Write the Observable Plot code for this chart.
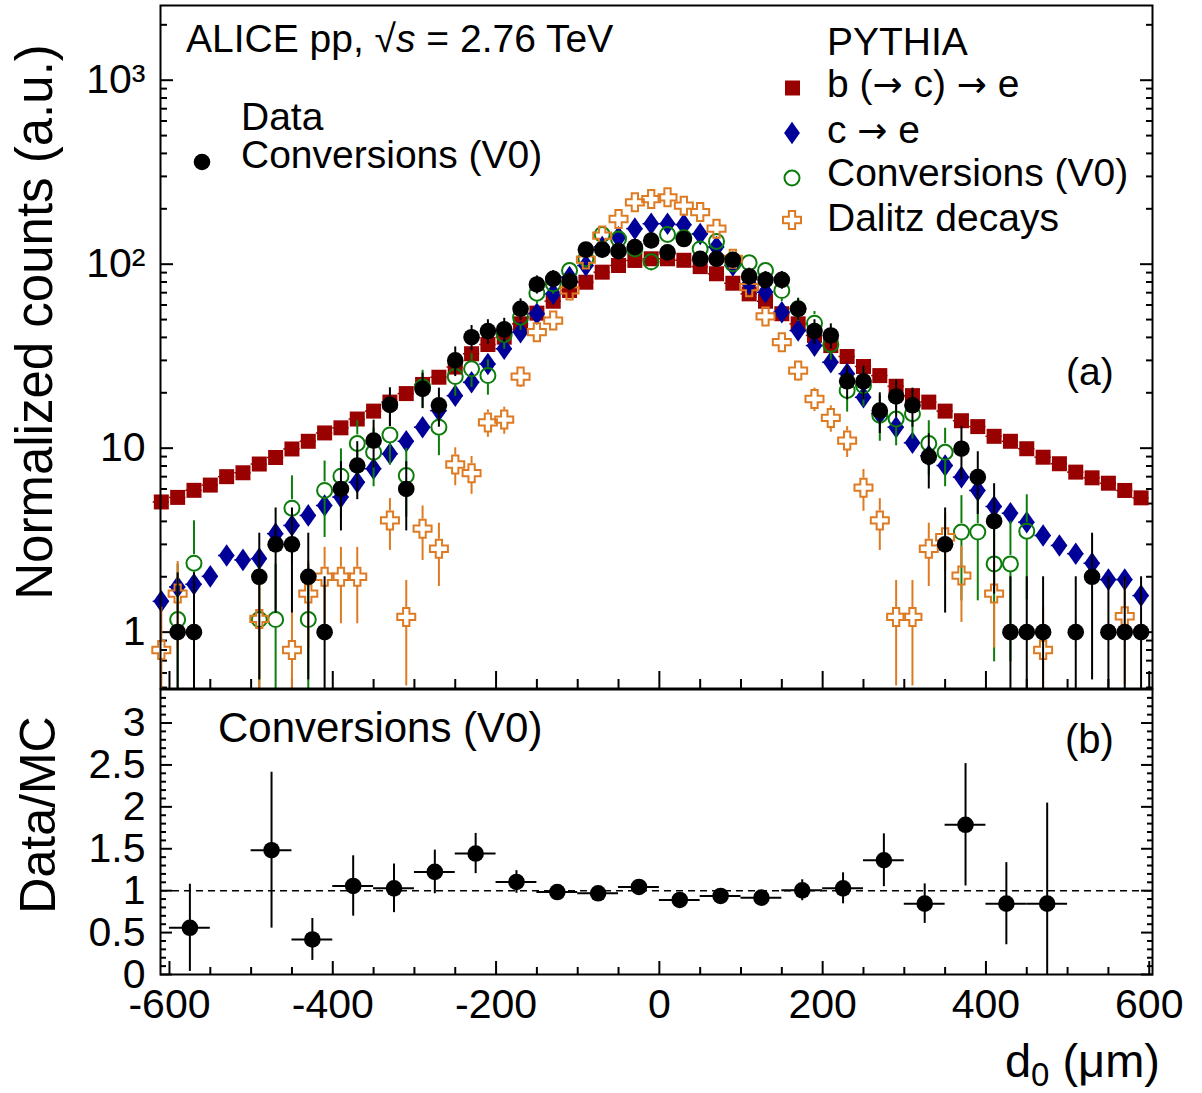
<!DOCTYPE html>
<html><head><meta charset="utf-8">
<script src="https://cdn.jsdelivr.net/npm/d3@7"></script>
<script src="https://cdn.jsdelivr.net/npm/@observablehq/plot@0.6"></script>
<style>
body{margin:0;background:#fff;}
#wrap{position:relative;width:1202px;height:1093px;background:#fff;}
#wrap svg{position:absolute;left:0;overflow:visible;}
</style></head><body><div id="wrap"></div>
<script>
// ---------- data ----------
const d0 = [-610,-590,-570,-550,-530,-510,-490,-470,-450,-430,-410,-390,-370,-350,-330,-310,-290,-270,-250,-230,-210,-190,-170,-150,-130,-110,-90,-70,-50,-30,-10,10,30,50,70,90,110,130,150,170,190,210,230,250,270,290,310,330,350,370,390,410,430,450,470,490,510,530,550,570,590];

const bToE = [5.1,5.4,5.9,6.3,7.0,7.35,8.2,8.9,9.9,10.9, 12.1,12.9,14.4,15.9,17.8,19.8,22.2,24.3,27.6,32.6, 36.6,40.1,47.4,54.2,62.9,71.9,79.8,90.5,98.4,104.8, 107,107,105,97,88.7,78.8,69,62.9,53.8,47.4, 41,36.1,31.5,27.8,24.8,21.7,19.3,17.8,15.9,14.1, 13.1,11.6,10.9,9.93,8.93,8.23,7.41,6.9,6.45,5.89, 5.37];

const cToE = [1.47,1.76,1.82,2.01,2.61,2.47,2.51,3.43,3.80,4.31, 4.88,5.42,6.53,7.73,9.32,10.9,13.0,16.0,19.3,22.8, 28.7,34.7,42.7,53.8,69,85,98.4,124,140,156, 166,166,164,146,124,98.4,78.2,70.4,54.8,43.6, 36.1,29.3,25.4,18.9,15.4,13.0,10.7,9.1,8.05,6.96, 5.89,4.82,4.43,3.96,3.35,2.96,2.67,2.37,1.93,1.93, 1.58];

const dataConv = [null,1.0,1.0,null,null,null,2.0,3.0,3.0,2.0, 1.0,6.0,8.05,11.0,17.2,6.0,21.0,17.1,30.0,40.1, 43.3,44.2,57.2,77.6,83.3,80.8,120,120,117.7,124, 134.5,116,137,107,107,105.7,85.8,82.2,82.2,57.2, 43.3,41,23.1,23.1,16.0,19.1,17.1,9.0,3.0,9.93, 6.96,4.01,1.0,1.0,1.0,null,1.0,2.0,1.0,1.0, 1.0];
const dataErr = [null,1.1,1.1,null,null,null,1.45,1.73,1.73,1.45, 1.0,2.45,2.8,3.2,4.1,2.45,4.6,4.1,5.5,6.3, 6.6,6.6,7.6,8.8,9.1,9.0,11,11,10.8,11.1, 11.6,10.8,11.7,10.3,10.3,10.3,9.3,9.1,9.1,7.6, 6.6,6.4,4.8,4.8,4.0,4.4,4.1,3.0,1.73,3.2, 2.6,2.4,1.0,1.0,1.0,null,1.0,1.45,1.0,1.0, 1.0];

const mcConv = [null,1.17,2.37,null,null,null,1.17,1.17,4.72,1.17, 5.89,7.04,10.6,9.5,11.8,7.1,21.5,13.0,24.5,27.0, 24.8,41.5,51.5,69.6,78.2,92.4,107,145,137,121, 103,145,139,121,133,100.5,101.8,92.4,71.9,57.2, 47.8,36.6,20.6,21.9,15.1,14.4,15.4,10.6,9.5,3.50, 3.50,2.35,2.35,3.54,null,null,null,null,null,null, null];
const mcErr = [null,1.17,1.66,null,null,null,1.17,1.17,2.35,1.17, 2.62,2.87,3.5,3.33,3.7,2.88,5.0,3.9,5.35,5.6, 5.4,7.0,7.8,9.0,9.6,10.4,11.2,13.0,12.7,11.9, 11.0,13.0,12.8,11.9,12.5,10.8,10.9,10.4,9.2,8.2, 7.5,6.5,4.9,5.1,4.2,4.1,4.2,3.5,3.33,2.02, 2.02,1.66,1.66,2.04,null,null,null,null,null,null, null];

const dalitz = [0.80,1.62,null,null,null,null,1.18,null,0.80,1.62, 2.0,2.0,2.0,null,4.05,1.21,3.65,2.84,8.15,7.31, 13.8,14.3,24.5,42.7,49.4,72,106,143,176,217, 226,231,208,192,156,107,75,52,37.7,26.4, 18.5,14.6,11.0,6.1,4.05,1.21,1.21,2.84,3.28,2.03, null,1.62,null,null,0.80,null,null,null,null,1.22, null];
const dalitzErr = [0.57,0.8,null,null,null,null,0.69,null,0.57,0.8, 0.89,0.89,0.89,null,1.27,0.7,1.2,1.07,1.9,1.7, 2.35,2.4,3.1,4.1,4.4,5.4,6.5,7.6,8.4,9.3, 9.5,9.6,9.1,8.8,7.9,6.5,5.5,4.6,3.9,3.25, 2.7,2.4,2.1,1.56,1.27,0.7,0.7,1.07,1.15,0.9, null,0.8,null,null,0.57,null,null,null,null,0.7, null];

const ratioX = [-575,-475,-425,-375,-325,-275,-225,-175,-125,-75,-25,25,75,125,175,225,275,325,375,425,475];
const ratioY = [0.557,1.483,0.418,1.056,1.028,1.224,1.443,1.104,0.984,0.969,1.044,0.889,0.937,0.917,1.005,1.028,1.363,0.845,1.786,0.845,0.845];
const ratioErr = [0.52,0.93,0.25,0.36,0.29,0.26,0.24,0.135,0.05,0.04,0.04,0.04,0.04,0.04,0.125,0.185,0.315,0.236,0.73,0.49,1.2];

const xMajor = [-600,-400,-200,0,200,400,600];
const xMinor = [-550,-500,-450,-350,-300,-250,-150,-100,-50,50,100,150,250,300,350,450,500,550];
const yTopMajor = [1,10,100,1000];
const yTopLabels = {1:"1",10:"10",100:"10\u00B2",1000:"10\u00B3"};
const yTopMinor = [0.5,0.6,0.7,0.8,0.9,2,3,4,5,6,7,8,9,20,30,40,50,60,70,80,90,200,300,400,500,600,700,800,900,2000];
const yBotMajor = [0,0.5,1,1.5,2,2.5,3];
const yBotMinor = [0.1,0.2,0.3,0.4,0.6,0.7,0.8,0.9,1.1,1.2,1.3,1.4,1.6,1.7,1.8,1.9,2.1,2.2,2.3,2.4,2.6,2.7,2.8,2.9,3.1,3.2,3.3];

// ---------- style ----------
const FONT = "'Liberation Sans', Arial, Helvetica, sans-serif";
const ARROWFONT = "'DejaVu Sans', sans-serif";
const RED = "#990000", BLUE = "#000099", GREEN = "#0c7d0c", ORANGE = "#de7b22";
const xDomain = [-611, 604];
const yMin = 0.494, yMax = 2547;
const TOP_H = 689, TOP_MT = 5, TOP_MB = 1;
const pxDec = (TOP_H - TOP_MT - TOP_MB) / Math.log10(yMax / yMin);

const sqSym = {draw(c, s){ const r = Math.sqrt(s/Math.PI); c.moveTo(-r,-r); c.lineTo(r,-r); c.lineTo(r,r); c.lineTo(-r,r); c.closePath(); }};
const diaSym = {draw(c, s){ const r = Math.sqrt(s/Math.PI), w = r*0.7; c.moveTo(0,-r); c.lineTo(w,0); c.lineTo(0,r); c.lineTo(-w,0); c.closePath(); }};
const crossSym = {draw(c, s){ const r = Math.sqrt(s/Math.PI), a = r*0.35;
  c.moveTo(-a,-r); c.lineTo(a,-r); c.lineTo(a,-a); c.lineTo(r,-a); c.lineTo(r,a); c.lineTo(a,a);
  c.lineTo(a,r); c.lineTo(-a,r); c.lineTo(-a,a); c.lineTo(-r,a); c.lineTo(-r,-a); c.lineTo(-a,-a); c.closePath(); }};

function rows(vals, errs){ return d0.map((x,i)=>({x, y: vals[i], e: errs ? errs[i] : null})).filter(r => r.y != null); }
function vbars(rs, gapPx){
  const f = Math.pow(10, gapPx / pxDec), out = [];
  for (const r of rs){
    if (r.e == null) continue;
    const hi = r.y + r.e, lo = Math.max(r.y - r.e, yMin * 0.5);
    if (hi > r.y * f) out.push({x: r.x, y1: r.y * f, y2: hi});
    if (lo < r.y / f) out.push({x: r.x, y1: lo, y2: r.y / f});
  }
  return out;
}
const redR = rows(bToE), blueR = rows(cToE), blackR = rows(dataConv, dataErr), greenR = rows(mcConv, mcErr), orangeR = rows(dalitz, dalitzErr);
const ratioR = ratioX.map((x,i)=>({x, y: ratioY[i], e: ratioErr[i]}));

const noText = () => "";
const topPlot = Plot.plot({
  width: 1202, height: TOP_H, marginLeft: 160, marginRight: 50, marginTop: TOP_MT, marginBottom: TOP_MB,
  x: {domain: xDomain},
  y: {type: "log", domain: [yMin, yMax]},
  style: {fontFamily: FONT, background: "transparent", overflow: "visible"},
  marks: [
    Plot.axisX({ticks: xMajor, tickSize: -17, tickFormat: noText, label: null, strokeWidth: 2}),
    Plot.axisX({ticks: xMinor, tickSize: -9, tickFormat: noText, label: null, strokeWidth: 2}),
    Plot.axisY({anchor: "left", ticks: yTopMajor, tickSize: -13, tickFormat: noText, label: null, strokeWidth: 2}),
    Plot.axisY({anchor: "left", ticks: yTopMinor, tickSize: -7, tickFormat: noText, label: null, strokeWidth: 2}),
    Plot.axisY({anchor: "right", ticks: yTopMajor, tickSize: -13, tickFormat: noText, label: null, strokeWidth: 2}),
    Plot.axisY({anchor: "right", ticks: yTopMinor, tickSize: -7, tickFormat: noText, label: null, strokeWidth: 2}),
    Plot.axisY({anchor: "left", ticks: yTopMajor, tickSize: 0, tickPadding: 15, tickFormat: d => yTopLabels[d], label: null, fontSize: 41, fill: "black"}),
    Plot.ruleY(redR, {y: "y", x1: r => r.x - 10, x2: r => r.x + 10, stroke: RED, strokeWidth: 1.5}),
    Plot.dot(redR, {x: "x", y: "y", r: 7.5, symbol: sqSym, fill: RED, stroke: "none"}),
    Plot.ruleY(blueR, {y: "y", x1: r => r.x - 10, x2: r => r.x + 10, stroke: BLUE, strokeWidth: 1.5}),
    Plot.dot(blueR, {x: "x", y: "y", r: 11.3, symbol: diaSym, fill: BLUE, stroke: "none"}),
    Plot.ruleX(vbars(greenR, 8.5), {x: "x", y1: "y1", y2: "y2", stroke: GREEN, strokeWidth: 2, clip: true}),
    Plot.dot(greenR, {x: "x", y: "y", r: 7.5, symbol: "circle", fill: "none", stroke: GREEN, strokeWidth: 2}),
    Plot.ruleX(vbars(orangeR, 9.5), {x: "x", y1: "y1", y2: "y2", stroke: ORANGE, strokeWidth: 2, clip: true}),
    Plot.dot(orangeR, {x: "x", y: "y", r: 9, symbol: crossSym, fill: "none", stroke: ORANGE, strokeWidth: 2}),
    Plot.ruleX(vbars(blackR, 0), {x: "x", y1: "y1", y2: "y2", stroke: "black", strokeWidth: 2, clip: true}),
    Plot.dot(blackR, {x: "x", y: "y", r: 8.3, symbol: "circle", fill: "black", stroke: "none"}),
    Plot.frame({stroke: "black", strokeWidth: 2})
  ]
});

const bottomPlot = Plot.plot({
  width: 1202, height: 405, marginLeft: 160, marginRight: 50, marginTop: 1, marginBottom: 119,
  x: {domain: xDomain},
  y: {domain: [0, 3.4]},
  style: {fontFamily: FONT, background: "transparent", overflow: "visible"},
  marks: [
    Plot.axisX({ticks: xMajor, tickSize: -13, tickFormat: noText, label: null, strokeWidth: 2}),
    Plot.axisX({ticks: xMinor, tickSize: -7, tickFormat: noText, label: null, strokeWidth: 2}),
    Plot.axisX({ticks: xMajor, tickSize: 0, tickPadding: 14, tickFormat: d => String(d), label: null, fontSize: 41, fill: "black"}),
    Plot.axisY({anchor: "left", ticks: yBotMajor, tickSize: -12, tickFormat: noText, label: null, strokeWidth: 2}),
    Plot.axisY({anchor: "left", ticks: yBotMinor, tickSize: -6, tickFormat: noText, label: null, strokeWidth: 2}),
    Plot.axisY({anchor: "right", ticks: yBotMajor, tickSize: -12, tickFormat: noText, label: null, strokeWidth: 2}),
    Plot.axisY({anchor: "right", ticks: yBotMinor, tickSize: -6, tickFormat: noText, label: null, strokeWidth: 2}),
    Plot.axisY({anchor: "left", ticks: yBotMajor, tickSize: 0, tickPadding: 15, tickFormat: d => String(d), label: null, fontSize: 41, fill: "black"}),
    Plot.ruleY([1], {stroke: "black", strokeWidth: 1.5, strokeDasharray: "7,5"}),
    Plot.ruleX(ratioR, {x: "x", y1: r => Math.max(0, r.y - r.e), y2: r => r.y + r.e, stroke: "black", strokeWidth: 2, clip: true}),
    Plot.ruleY(ratioR, {y: "y", x1: r => r.x - 25, x2: r => r.x + 25, stroke: "black", strokeWidth: 2}),
    Plot.dot(ratioR, {x: "x", y: "y", r: 8.3, fill: "black", stroke: "none"}),
    Plot.frame({stroke: "black", strokeWidth: 2})
  ]
});

const wrap = document.getElementById("wrap");
topPlot.style.top = "0px";
bottomPlot.style.top = "688px";
wrap.appendChild(topPlot);
wrap.appendChild(bottomPlot);

// ---------- annotations & legend ----------
function txt(sel, x, y, size, parts, anchor = "start", transform = null){
  const t = sel.append("text").attr("font-family", FONT).attr("font-size", size).attr("fill", "black").attr("text-anchor", anchor);
  if (transform) t.attr("transform", transform); else t.attr("x", x).attr("y", y);
  for (const p of parts){
    const s = t.append("tspan").text(p.t);
    if (p.style) s.attr("font-style", p.style);
    if (p.size) s.attr("font-size", p.size);
    if (p.dy) s.attr("dy", p.dy);
    if (p.family) s.attr("font-family", p.family);
  }
  return t;
}
const AR = {t: "\u2192", family: ARROWFONT, size: 36};
const ts = d3.select(topPlot);
const ann = ts.append("g");
txt(ann, 186, 52, 39, [{t: "ALICE pp, "}, {t: "\u221A"}, {t: "s", style: "italic"}, {t: " = 2.76 TeV"}]);
txt(ann, 241, 130, 39, [{t: "Data"}]);
txt(ann, 241, 168, 39, [{t: "Conversions (V0)"}]);
ann.append("circle").attr("cx", 202).attr("cy", 162).attr("r", 8.3).attr("fill", "black");

txt(ann, 827, 55, 39, [{t: "PYTHIA"}]);
txt(ann, 827, 97, 39, [{t: "b ("}, AR, {t: " c) "}, AR, {t: " e"}]);
txt(ann, 827, 143, 39, [{t: "c "}, AR, {t: " e"}]);
txt(ann, 827, 186, 39, [{t: "Conversions (V0)"}]);
txt(ann, 827, 231, 39, [{t: "Dalitz decays"}]);
ann.append("path").attr("transform", "translate(792.5,88)").attr("d", d3.symbol(sqSym, Math.PI*7.5*7.5)()).attr("fill", RED);
ann.append("path").attr("transform", "translate(792,133)").attr("d", d3.symbol(diaSym, Math.PI*11.3*11.3)()).attr("fill", BLUE);
ann.append("circle").attr("cx", 792).attr("cy", 178).attr("r", 7.5).attr("fill", "none").attr("stroke", GREEN).attr("stroke-width", 2);
ann.append("path").attr("transform", "translate(792,220)").attr("d", d3.symbol(crossSym, Math.PI*9*9)()).attr("fill", "none").attr("stroke", ORANGE).attr("stroke-width", 2);

txt(ann, 1066, 385, 39, [{t: "(a)"}]);
txt(ann, 0, 0, 51, [{t: "Normalized counts (a.u.)"}], "middle", "translate(52,322) rotate(-90)");

const bs = d3.select(bottomPlot);
const ann2 = bs.append("g");
txt(ann2, 218, 742 - 688, 42, [{t: "Conversions (V0)"}]);
txt(ann2, 1065, 753 - 688, 40, [{t: "(b)"}]);
txt(ann2, 0, 0, 50, [{t: "Data/MC"}], "middle", "translate(55," + (815 - 688) + ") rotate(-90)");
txt(ann2, 1160, 1077 - 688, 47, [{t: "d"}, {t: "0", size: 33, dy: 9}, {t: " (\u03BCm)", size: 47, dy: -9}], "end");
</script>
</body></html>
